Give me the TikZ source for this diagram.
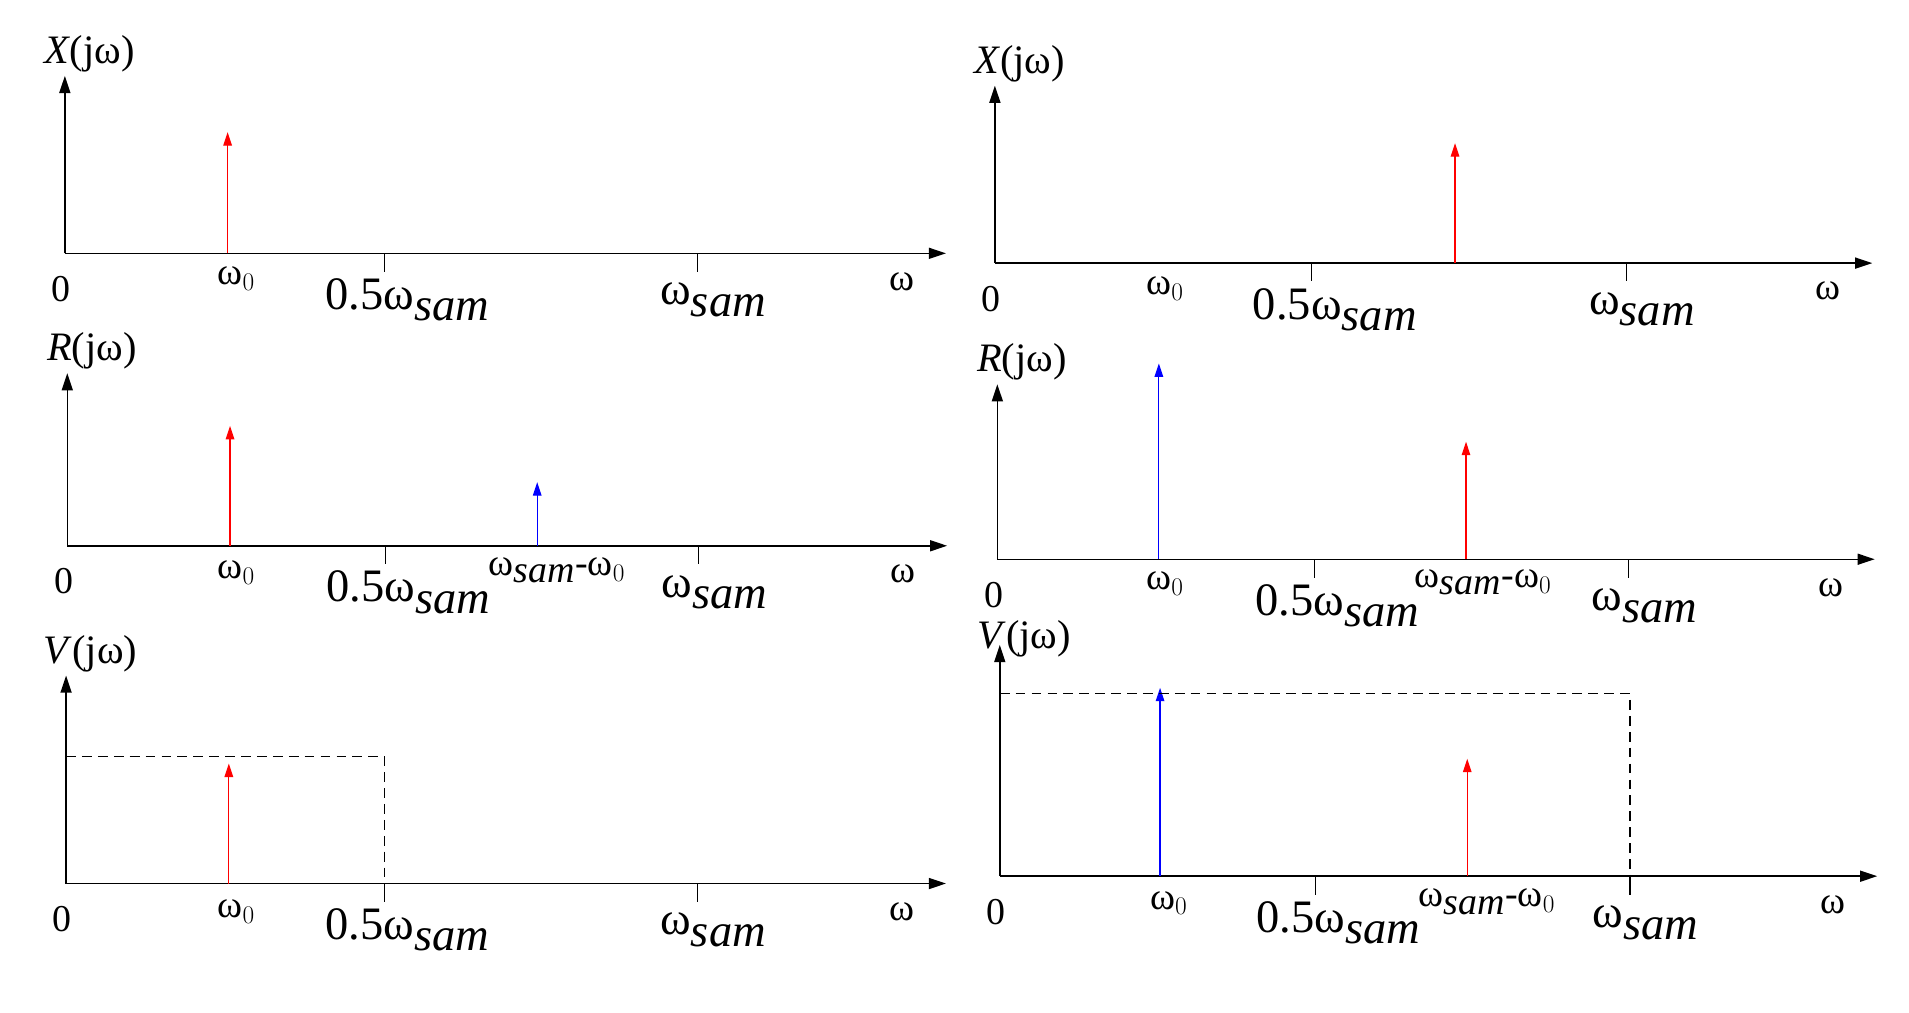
\documentclass[tikz,border=0pt]{standalone}
\usepackage{fontspec}
\setmainfont{Liberation Serif}
\usetikzlibrary{arrows.meta}
\begin{document}
\begin{tikzpicture}[x=1pt,y=-1pt,
 axis/.style={line width=1.2pt,-{Triangle[length=14pt,width=9pt]}},
 spike/.style={line width=1pt,-{Triangle[length=11pt,width=7pt]}},
 tick/.style={line width=1pt},
 dsh/.style={dashed,line width=1pt,dash pattern=on 8pt off 5pt},
 big/.style={font=\fontsize{38}{40}\selectfont,inner sep=0pt},
 mid/.style={font=\fontsize{33}{35}\selectfont,inner sep=0pt},
 sm/.style={font=\fontsize{31}{33}\selectfont,inner sep=0pt}]
\useasboundingbox (0,0) rectangle (1560,827);
\newcommand{\ws}{ω$_{\textit{sam}}$}
\newcommand{\wz}{ω$_{0}$}
\newcommand{\panelp}[9]{%
 \coordinate (#1o) at (#2,#3);
 \coordinate (#1t) at (#2,#4);
 \coordinate (#1e) at (#5,#3);
 \draw[axis] (#1o) -- (#1t);
 \draw[axis] (#1o) -- (#1e);
 \coordinate (#1h) at (#6,#3); \coordinate (#1hb) at (#6,#3+15);
 \coordinate (#1s) at (#7,#3); \coordinate (#1sb) at (#7,#3+15);
 \draw[tick] (#1h) -- (#1hb);
 \draw[tick] (#1s) -- (#1sb);
 \node[mid] (#1lab) at (#2+20,#9) {\textit{#8}(jω)};
 \node[sm] (#1zero) at (#2-3,#3+29) {0};
 \node[big] (#1half) at (#6+19,#3+38) {0.5\ws};
 \node[big] (#1sam) at (#7+13,#3+38) {\ws};
 \node[sm] (#1w) at (#5-36,#3+23) {ω};
}
\panelp{a}{53}{207}{62}{773}{314}{570}{X}{44}
\panelp{b}{55}{446}{305}{774}{315}{571}{R}{287}
\panelp{c}{54}{722}{552}{773}{314}{570}{V}{534}
\panelp{d}{813}{215}{70}{1530}{1072}{1329}{X}{52}
\panelp{e}{815}{457}{314}{1532}{1074}{1331}{R}{296}
\panelp{f}{817}{716}{527}{1534}{1075}{1332}{V}{522}
\coordinate (a1) at (186,207); \coordinate (a1t) at (186,108);
\draw[spike,red] (a1) -- (a1t);
\node[sm] (a1l) at (193,228) {\wz};
\coordinate (b1) at (188,446); \coordinate (b1t) at (188,348);
\draw[spike,red] (b1) -- (b1t);
\node[sm] (b1l) at (193,468) {\wz};
\coordinate (b2) at (439,446); \coordinate (b2t) at (439,394);
\draw[spike,blue] (b2) -- (b2t);
\node[sm] (b2l) at (455,466) {\ws-\wz};
\coordinate (c1) at (187,722); \coordinate (c1t) at (187,624);
\draw[spike,red] (c1) -- (c1t);
\node[sm] (c1l) at (193,745) {\wz};
\coordinate (cd1) at (54,618); \coordinate (cd2) at (314,618);
\draw[dsh] (cd1) -- (cd2) -- (ch);
\coordinate (d1) at (1189,215); \coordinate (d1t) at (1189,117);
\draw[spike,red] (d1) -- (d1t);
\node[sm] (d1l) at (952,236) {\wz};
\coordinate (e1) at (947,457); \coordinate (e1t) at (947,297);
\draw[spike,blue] (e1) -- (e1t);
\node[sm] (e1l) at (952,477) {\wz};
\coordinate (e2) at (1198,457); \coordinate (e2t) at (1198,361);
\draw[spike,red] (e2) -- (e2t);
\node[sm] (e2l) at (1212,476) {\ws-\wz};
\coordinate (f1) at (948,716); \coordinate (f1t) at (948,562);
\draw[spike,blue] (f1) -- (f1t);
\node[sm] (f1l) at (955,738) {\wz};
\coordinate (f2) at (1199,716); \coordinate (f2t) at (1199,620);
\draw[spike,red] (f2) -- (f2t);
\node[sm] (f2l) at (1215,737) {\ws-\wz};
\coordinate (fd1) at (817,567); \coordinate (fd2) at (1332,567);
\draw[dsh] (fd1) -- (fd2) -- (fs);
\end{tikzpicture}
\end{document}
